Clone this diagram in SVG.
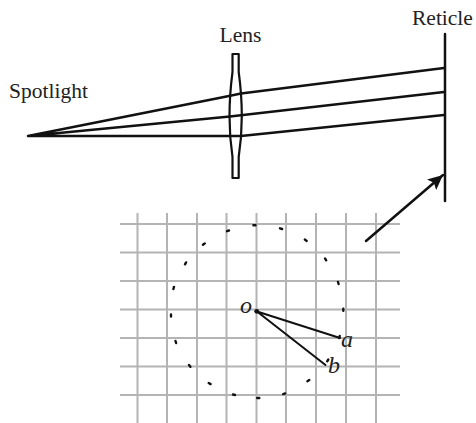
<svg xmlns="http://www.w3.org/2000/svg" width="476" height="423" viewBox="0 0 476 423">
<style>
.t{font-family:"Liberation Serif","Times New Roman",serif;font-size:21.500px;fill:#222}
.i{font-style:italic;font-size:24px}
.g{stroke:#b4b4b4;stroke-width:2;fill:none}
.k{stroke:#111;fill:none;stroke-linecap:round;stroke-linejoin:round}
.d{stroke:#111;stroke-width:2.400;stroke-linecap:round;fill:none}
</style>
<defs><marker id="ah" markerUnits="userSpaceOnUse" markerWidth="16" markerHeight="14" refX="15" refY="7" orient="auto"><path d="M0 0L15 7L0 14L3 7Z" fill="#111"/></marker></defs>
<rect width="476" height="423" fill="#fff"/>
<g id="grid" class="g">
<path d="M120 224H400M120 252.500H400M120 281H400M120 309.500H400M120 338H400M120 366.500H400M120 395H400"/>
<path d="M137.500 213V423M167 213V423M197 213V423M226.500 213V423M256.500 213V423M286 213V423M316 213V423M346 213V423M376 213V423"/>
</g>
<g id="circle-dots" class="d">
<path d="M253.400 225.300h2.100M280 228.300l2.100 .7M304.800 239.600l1.900 1.300M325 258.400l1.200 1.900M338 282l.6 2M343.300 308.800v2M339.700 336l-.5 2M328.300 359.500l-1.100 1.800M309.300 380l-1.900 1.200M285.200 393.400l-2 .7M257.200 398h2.100M233 394.500l2 .5M208.700 383l1.900 1.100M189 365l1.400 1.700M175.500 341l.6 2M171 314.400v2.100M173.400 289l.6-2.100M185 264.300l1.100-1.900M203 244.800l1.800-1.400M227 231.200l2-.7"/>
</g>
<g id="connectors" class="k">
<path stroke-width="2.500" d="M28 136L229 96L241 93.500L444 68M28 136L230 116.500L444 92M28 136H241L444 115"/>
<path stroke-width="2.500" d="M366 241L443 175" marker-end="url(#ah)"/>
<path stroke-width="2" d="M257 311.500L340 338M257 311.500L325.500 365"/>
</g>
<g id="lens"><path class="k" stroke-width="2.200" d="M232.500 54H238.700V72Q241.800 95 241.800 116Q241.800 137 238.700 157V178H232.500V157Q229.500 137 229.500 116Q229.500 95 232.500 72Z"/></g>
<g id="reticle"><path class="k" stroke-width="2.500" d="M445 34V201"/></g>
<g id="o-point"><circle cx="256.700" cy="311.300" r="2.400" fill="#111"/></g>
<g id="labels">
<text class="t" x="219.500" y="42">Lens</text>
<text class="t" x="9" y="98">Spotlight</text>
<text class="t" x="412" y="25">Reticle</text>
<text class="t i" x="240" y="313">o</text>
<text class="t i" x="341" y="347">a</text>
<text class="t i" x="328" y="373">b</text>
</g>
</svg>
